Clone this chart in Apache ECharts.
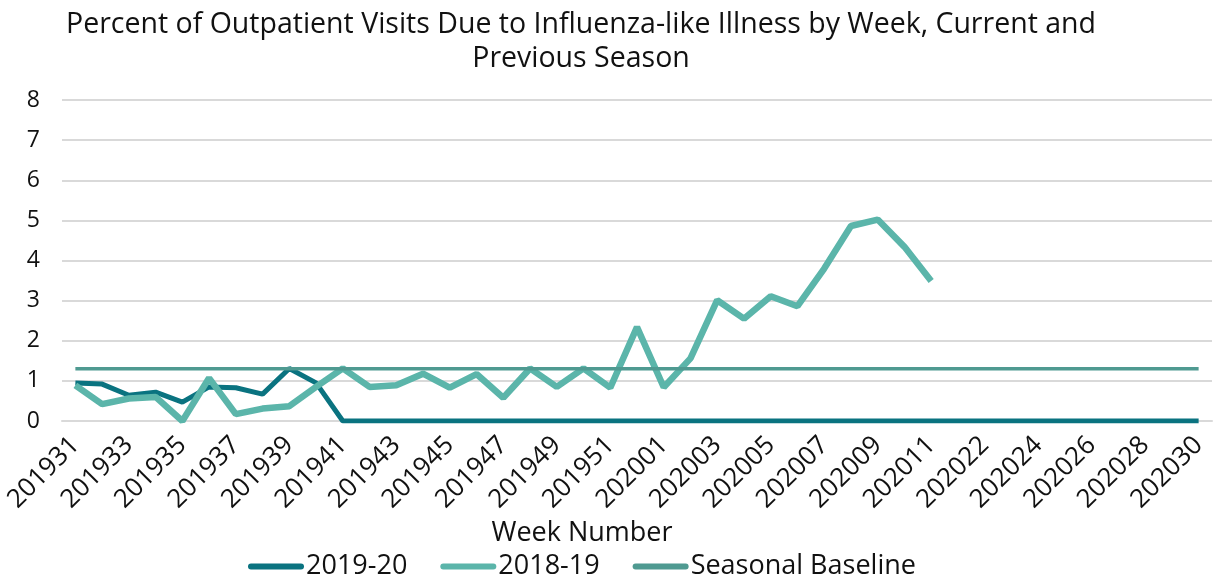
<!DOCTYPE html>
<html><head><meta charset="utf-8">
<script src="https://cdn.jsdelivr.net/npm/echarts@6/dist/echarts.min.js"></script>
<style>html,body{margin:0;padding:0;background:#fff}#c{width:1215px;height:577px}</style>
</head><body><div id="c"></div>
<script>
const weeks = ["201931","201932","201933","201934","201935","201936","201937","201938","201939","201940",
  "201941","201942","201943","201944","201945","201946","201947","201948","201949","201950","201951","201952",
  "202001","202002","202003","202004","202005","202006","202007","202008","202009","202010","202011",
  "202021","202022","202023","202024","202025","202026","202027","202028","202029","202030"];
const season2019_20 = [0.95,0.92,0.64,0.72,0.47,0.85,0.83,0.67,1.31,0.95,
  0,0,0,0,0,0,0,0,0,0,0,0,
  0,0,0,0,0,0,0,0,0,0,0,
  0,0,0,0,0,0,0,0,0,0];
const season2018_19 = [0.89,0.42,0.56,0.60,0.0,1.07,0.17,0.31,0.37,0.85,
  1.31,0.85,0.89,1.18,0.83,1.17,0.58,1.31,0.85,1.31,0.83,2.34,
  0.84,1.56,3.01,2.55,3.11,2.86,3.80,4.86,5.02,4.34,3.49,
  null,null,null,null,null,null,null,null,null,null];
const baseline = weeks.map(() => 1.3);
const yTicks = [0,1,2,3,4,5,6,7,8];

const FONT = "'Century Gothic','Open Sans',sans-serif";
const ICON = 'path://M3,0 L53,0 A3,3 0 0 1 53,6 L3,6 A3,3 0 0 1 3,0 Z';
const chart = echarts.init(document.getElementById('c'), null, {renderer:'canvas'});
chart.setOption({
  animation: false,
  textStyle: {fontFamily: FONT, color: '#111'},
  title: {
    text: 'Percent of Outpatient Visits Due to Influenza-like Illness by Week, Current and\nPrevious Season',
    left: 576, top: 3, textAlign: 'center',
    textStyle: {fontFamily: FONT, fontSize: 28.5, fontWeight: 'normal', color: '#111', lineHeight: 34}
  },
  legend: {
    left: 243, top: 548, itemGap: 33, itemWidth: 56, itemHeight: 6, symbolKeepAspect: false,
    textStyle: {fontFamily: FONT, fontSize: 27, color: '#111', padding: [0,0,0,-3]},
    data: [{name:'2019-20', icon: ICON}, {name:'2018-19', icon: ICON}, {name:'Seasonal Baseline', icon: ICON}]
  },
  grid: {left: 62, right: 3, top: 100, bottom: 156},
  xAxis: {
    type: 'category', data: weeks, boundaryGap: true,
    name: 'Week Number', nameLocation: 'middle', nameGap: 99,
    nameTextStyle: {fontFamily: FONT, fontSize: 27, color: '#111', padding: [0,110,0,0]},
    axisLine: {show: true, lineStyle: {color: '#d9d9d9', width: 2}},
    axisTick: {show: false},
    axisLabel: {interval: 1, rotate: 45, fontFamily: FONT, fontSize: 26, color: '#111', margin: 20,
      padding: [26,0,0,0]}
  },
  yAxis: {
    type: 'value', min: yTicks[0], max: yTicks[yTicks.length-1], interval: 1,
    axisLine: {show: false}, axisTick: {show: false},
    axisLabel: {fontFamily: FONT, fontSize: 23, color: '#111', margin: 22},
    splitLine: {lineStyle: {color: '#d9d9d9', width: 2}}
  },
  series: [
    {name: '2019-20', type: 'line', data: season2019_20, showSymbol: false, symbol: 'none',
     lineStyle: {color: '#0a7380', width: 5}, itemStyle: {color: '#0a7380'}, z: 3},
    {name: '2018-19', type: 'line', data: season2018_19, showSymbol: false, symbol: 'none',
     lineStyle: {color: '#5bb5aa', width: 6.5}, itemStyle: {color: '#5bb5aa'}, z: 4},
    {name: 'Seasonal Baseline', type: 'line', data: baseline, showSymbol: false, symbol: 'none',
     lineStyle: {color: '#4f9a91', width: 3.5}, itemStyle: {color: '#4f9a91'}, z: 5}
  ]
});
</script></body></html>
